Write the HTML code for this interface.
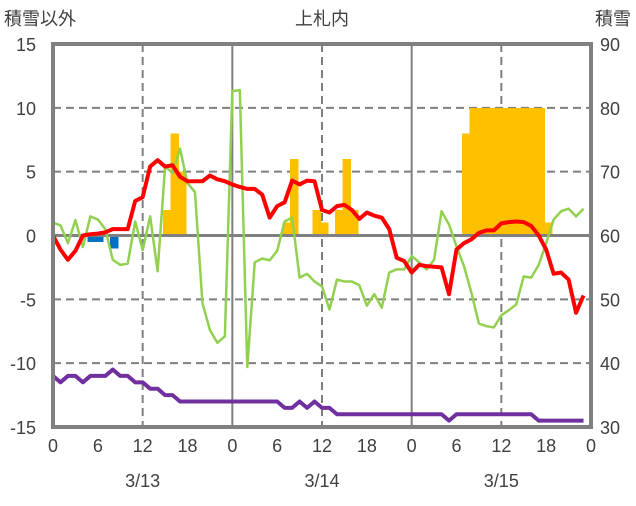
<!DOCTYPE html>
<html><head><meta charset="utf-8"><style>
body{margin:0;background:#fff;}
svg text{font-family:"Liberation Sans","Noto Sans CJK JP",sans-serif;fill:#404040;font-size:18px;}
</style></head><body>
<svg id="c" width="636" height="501" xmlns="http://www.w3.org/2000/svg"></svg>
<script>
const redVals=[0,-1.1,-1.9,-1.2,0,0.1,0.15,0.25,0.5,0.5,0.5,2.7,3.0,5.4,5.9,5.4,5.5,4.6,4.25,4.25,4.25,4.7,4.4,4.25,4.0,3.8,3.65,3.65,3.2,1.4,2.3,2.6,4.3,4.0,4.3,4.25,2.0,1.8,2.3,2.4,2.0,1.3,1.8,1.55,1.4,0.5,-1.75,-2.0,-2.9,-2.3,-2.4,-2.45,-2.5,-4.6,-1.1,-0.6,-0.3,0.2,0.4,0.4,0.95,1.05,1.1,1.05,0.75,0,-1.1,-3.0,-2.9,-3.45,-6.05,-4.7];
const greenVals=[1.0,0.8,-0.6,1.2,-0.9,1.5,1.25,0.5,-1.9,-2.3,-2.2,1.1,-1.15,1.5,-2.8,5.4,4.9,6.8,4.1,3.4,-5.3,-7.4,-8.4,-7.9,11.3,11.4,-10.3,-2.1,-1.8,-1.95,-1.2,1.1,1.4,-3.3,-3.0,-3.6,-4.0,-5.8,-3.45,-3.6,-3.6,-3.9,-5.5,-4.6,-5.65,-2.9,-2.65,-2.65,-1.6,-2.1,-2.65,-1.9,1.9,0.85,-0.85,-2.4,-4.5,-6.9,-7.1,-7.2,-6.25,-5.85,-5.4,-3.2,-3.3,-2.3,-0.6,1.25,1.9,2.1,1.5,2.1];
const snowDepth=[38,37,38,38,37,38,38,38,39,38,38,37,37,36,36,35,35,34,34,34,34,34,34,34,34,34,34,34,34,34,34,33,33,34,33,34,33,33,32,32,32,32,32,32,32,32,32,32,32,32,32,32,32,31,32,32,32,32,32,32,32,32,32,32,32,31,31,31,31,31,31,31];
const precipHours=[15,16,17,31,32,35,36,38,39,40,55,56,57,58,59,60,61,62,63,64,65,66];
const precipVals=[2,8,5,1,6,2,1,2,6,2,8,10,10,10,10,10,10,10,10,10,10,1];
const blueHours=[5,6,8];
const blueVals=[-0.5,-0.5,-1.0];
const leftTicks=[15,10,5,0,-5,-10,-15];
const rightTicks=[90,80,70,60,50,40,30];
const xTickHours=[0,6,12,18,24,30,36,42,48,54,60,66,72];
const xTickLabels=["0","6","12","18","0","6","12","18","0","6","12","18","0"];
const dateHours=[12,36,60];
const dateLabels=["3/13","3/14","3/15"];

const X0=53,X1=591,Y0=44,Y1=427;
const xs=h=>X0+(X1-X0)*h/72;
const yL=v=>Y0+(15-v)*(Y1-Y0)/30;
const yR=v=>yL((v-60)/2);
const svg=document.getElementById('c');
const NS="http://www.w3.org/2000/svg";
function mk(t,a,p){const e=document.createElementNS(NS,t);for(const k in a)e.setAttribute(k,a[k]);(p||svg).appendChild(e);return e;}

[10,5,-5,-10].forEach(v=>{const l=mk('line',{x1:X0,x2:X1,y1:yL(v),y2:yL(v),stroke:'#7f7f7f','stroke-width':2,'stroke-dasharray':'8,5'});

});
[12,36,60].forEach(h=>{const l=mk('line',{x1:xs(h),x2:xs(h),y1:Y0,y2:Y1,stroke:'#7f7f7f','stroke-width':2,'stroke-dasharray':'8,5'});

});
[24,48].forEach(h=>{const l=mk('line',{x1:xs(h),x2:xs(h),y1:Y0,y2:Y1,stroke:'#7f7f7f','stroke-width':2});

});

const bw=(X1-X0)/72;
precipHours.forEach((h,i)=>{const v=precipVals[i];const r=mk('rect',{x:xs(h+0.3)-bw/2-0.4,width:bw+0.8,y:yL(v),height:yL(0)-yL(v),fill:'#ffc000','shape-rendering':'crispEdges'});

});
blueHours.forEach((h,i)=>{const v=blueVals[i];const r=mk('rect',{x:xs(h+0.2)-bw/2-0.4,width:bw+0.8,y:yL(0),height:yL(v)-yL(0),fill:'#0070c0','shape-rendering':'crispEdges'});

});

const z=mk('line',{x1:X0,x2:X1,y1:yL(0),y2:yL(0),stroke:'#808080','stroke-width':3});



function line(vals,f,col,w,name){const p=mk('polyline',{points:vals.map((v,i)=>xs(i)+','+f(v)).join(' '),fill:'none',stroke:col,'stroke-width':w,'stroke-linejoin':'round'});

}
line(greenVals,yL,'#92d050',2.5,'wind-line');
line(redVals,yL,'#ff0000',4,'temperature-line');
line(snowDepth,yR,'#7030a0',4,'snow-depth-line');

const fr=mk('rect',{x:X0,y:Y0,width:X1-X0,height:Y1-Y0,fill:'none',stroke:'#808080','stroke-width':4});



function txt(x,y,s,anchor,name){const t=mk('text',{x:x,y:y,'text-anchor':anchor});t.textContent=s;

}
leftTicks.forEach(v=>txt(36,yL(v)+7,String(v),'end','left-tick-label'));
rightTicks.forEach(v=>txt(600,yR(v)+7,String(v),'start','right-tick-label'));
xTickHours.forEach((h,i)=>txt(xs(h),452,xTickLabels[i],'middle','x-tick-label'));
dateHours.forEach((h,i)=>txt(xs(h),487,dateLabels[i],'middle','date-label'));
txt(4,25,'積雪以外','start','left-axis-title');
txt(322,25,'上札内','middle','chart-title');
txt(631,25,'積雪','end','right-axis-title');
</script>
</body></html>
